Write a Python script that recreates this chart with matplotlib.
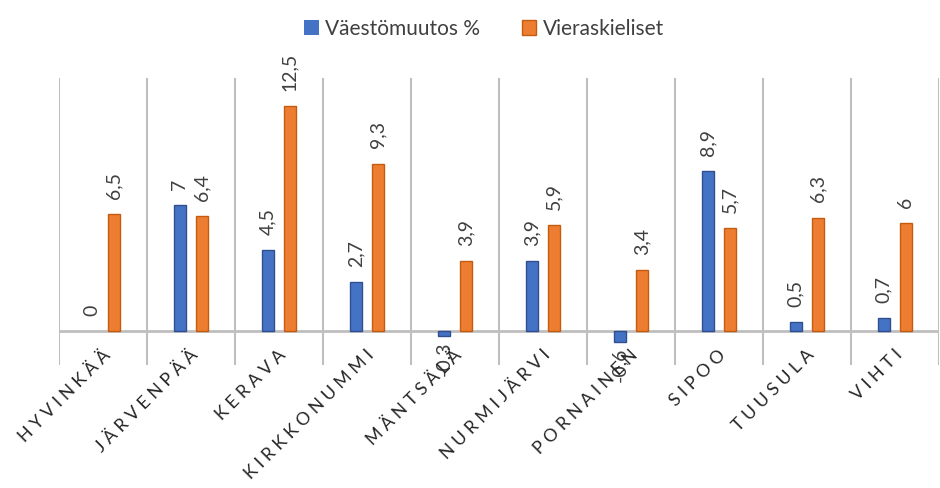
import matplotlib.pyplot as plt
import numpy as np

kunnat = ['HYVINKÄÄ', 'JÄRVENPÄÄ', 'KERAVA', 'KIRKKONUMMI', 'MÄNTSÄLÄ',
          'NURMIJÄRVI', 'PORNAINEN', 'SIPOO', 'TUUSULA', 'VIHTI']
vaestomuutos = [0, 7, 4.5, 2.7, -0.3, 3.9, -0.6, 8.9, 0.5, 0.7]
vieraskieliset = [6.5, 6.4, 12.5, 9.3, 3.9, 5.9, 3.4, 5.7, 6.3, 6.0]

plt.rcParams['font.family'] = ['Lato', 'DejaVu Sans']

fig = plt.figure(figsize=(9.4, 4.88), dpi=100)
ax = fig.add_axes([0.063, 0.252, 0.936, 0.588])

x = np.arange(len(kunnat))
w = 0.135
b1 = ax.bar(x - 0.13, vaestomuutos, w, color='#4472C4', linewidth=1,
            edgecolor=['none' if v == 0 else '#2F4F8F' for v in vaestomuutos],
            label='Väestömuutos %', zorder=3)
b2 = ax.bar(x + 0.12, vieraskieliset, w, color='#ED7D31', edgecolor='#C55A11',
            linewidth=1, label='Vieraskieliset', zorder=3)

def fmt(v):
    return ('%g' % v).replace('.', ',')

for bars, vals in ((b1, vaestomuutos), (b2, vieraskieliset)):
    for r, v in zip(bars, vals):
        cx = r.get_x() + r.get_width() / 2
        if v >= 0:
            ax.annotate(fmt(v), (cx, v), xytext=(0, 11), textcoords='offset points',
                        rotation=90, ha='center', va='bottom', fontsize=14,
                        color='#404040', annotation_clip=False)
        else:
            ax.annotate(fmt(v), (cx, v), xytext=(0, -4), textcoords='offset points',
                        rotation=90, ha='center', va='top', fontsize=14,
                        color='#404040', annotation_clip=False)

# category separators and zero line
for i in range(len(kunnat) + 1):
    ax.axvline(i - 0.5, color='#BFBFBF', lw=1.5, zorder=1)
ax.axhline(0, color='#BFBFBF', lw=2, zorder=2)

ax.set_xlim(-0.5, len(kunnat) - 0.5)
ax.set_ylim(-1.89, 14.05)
ax.set_xticks([])
ax.set_yticks([])
for s in ax.spines.values():
    s.set_visible(False)

# spaced-out municipality names under the axis
for i, k in enumerate(kunnat):
    ax.text(i + 0.05, -1.2, ' '.join(k), rotation=45, rotation_mode='anchor',
            ha='right', va='center', fontsize=12.8, color='#262626', clip_on=False)

fig.legend(handles=[b1, b2], loc='upper center', bbox_to_anchor=(0.515, 1.0),
           ncol=2, frameon=False, fontsize=15, handlelength=0.7, handleheight=0.7,
           columnspacing=2.0, handletextpad=0.3, labelcolor='#404040')

fig.savefig('out.png', dpi=100, facecolor='white')
